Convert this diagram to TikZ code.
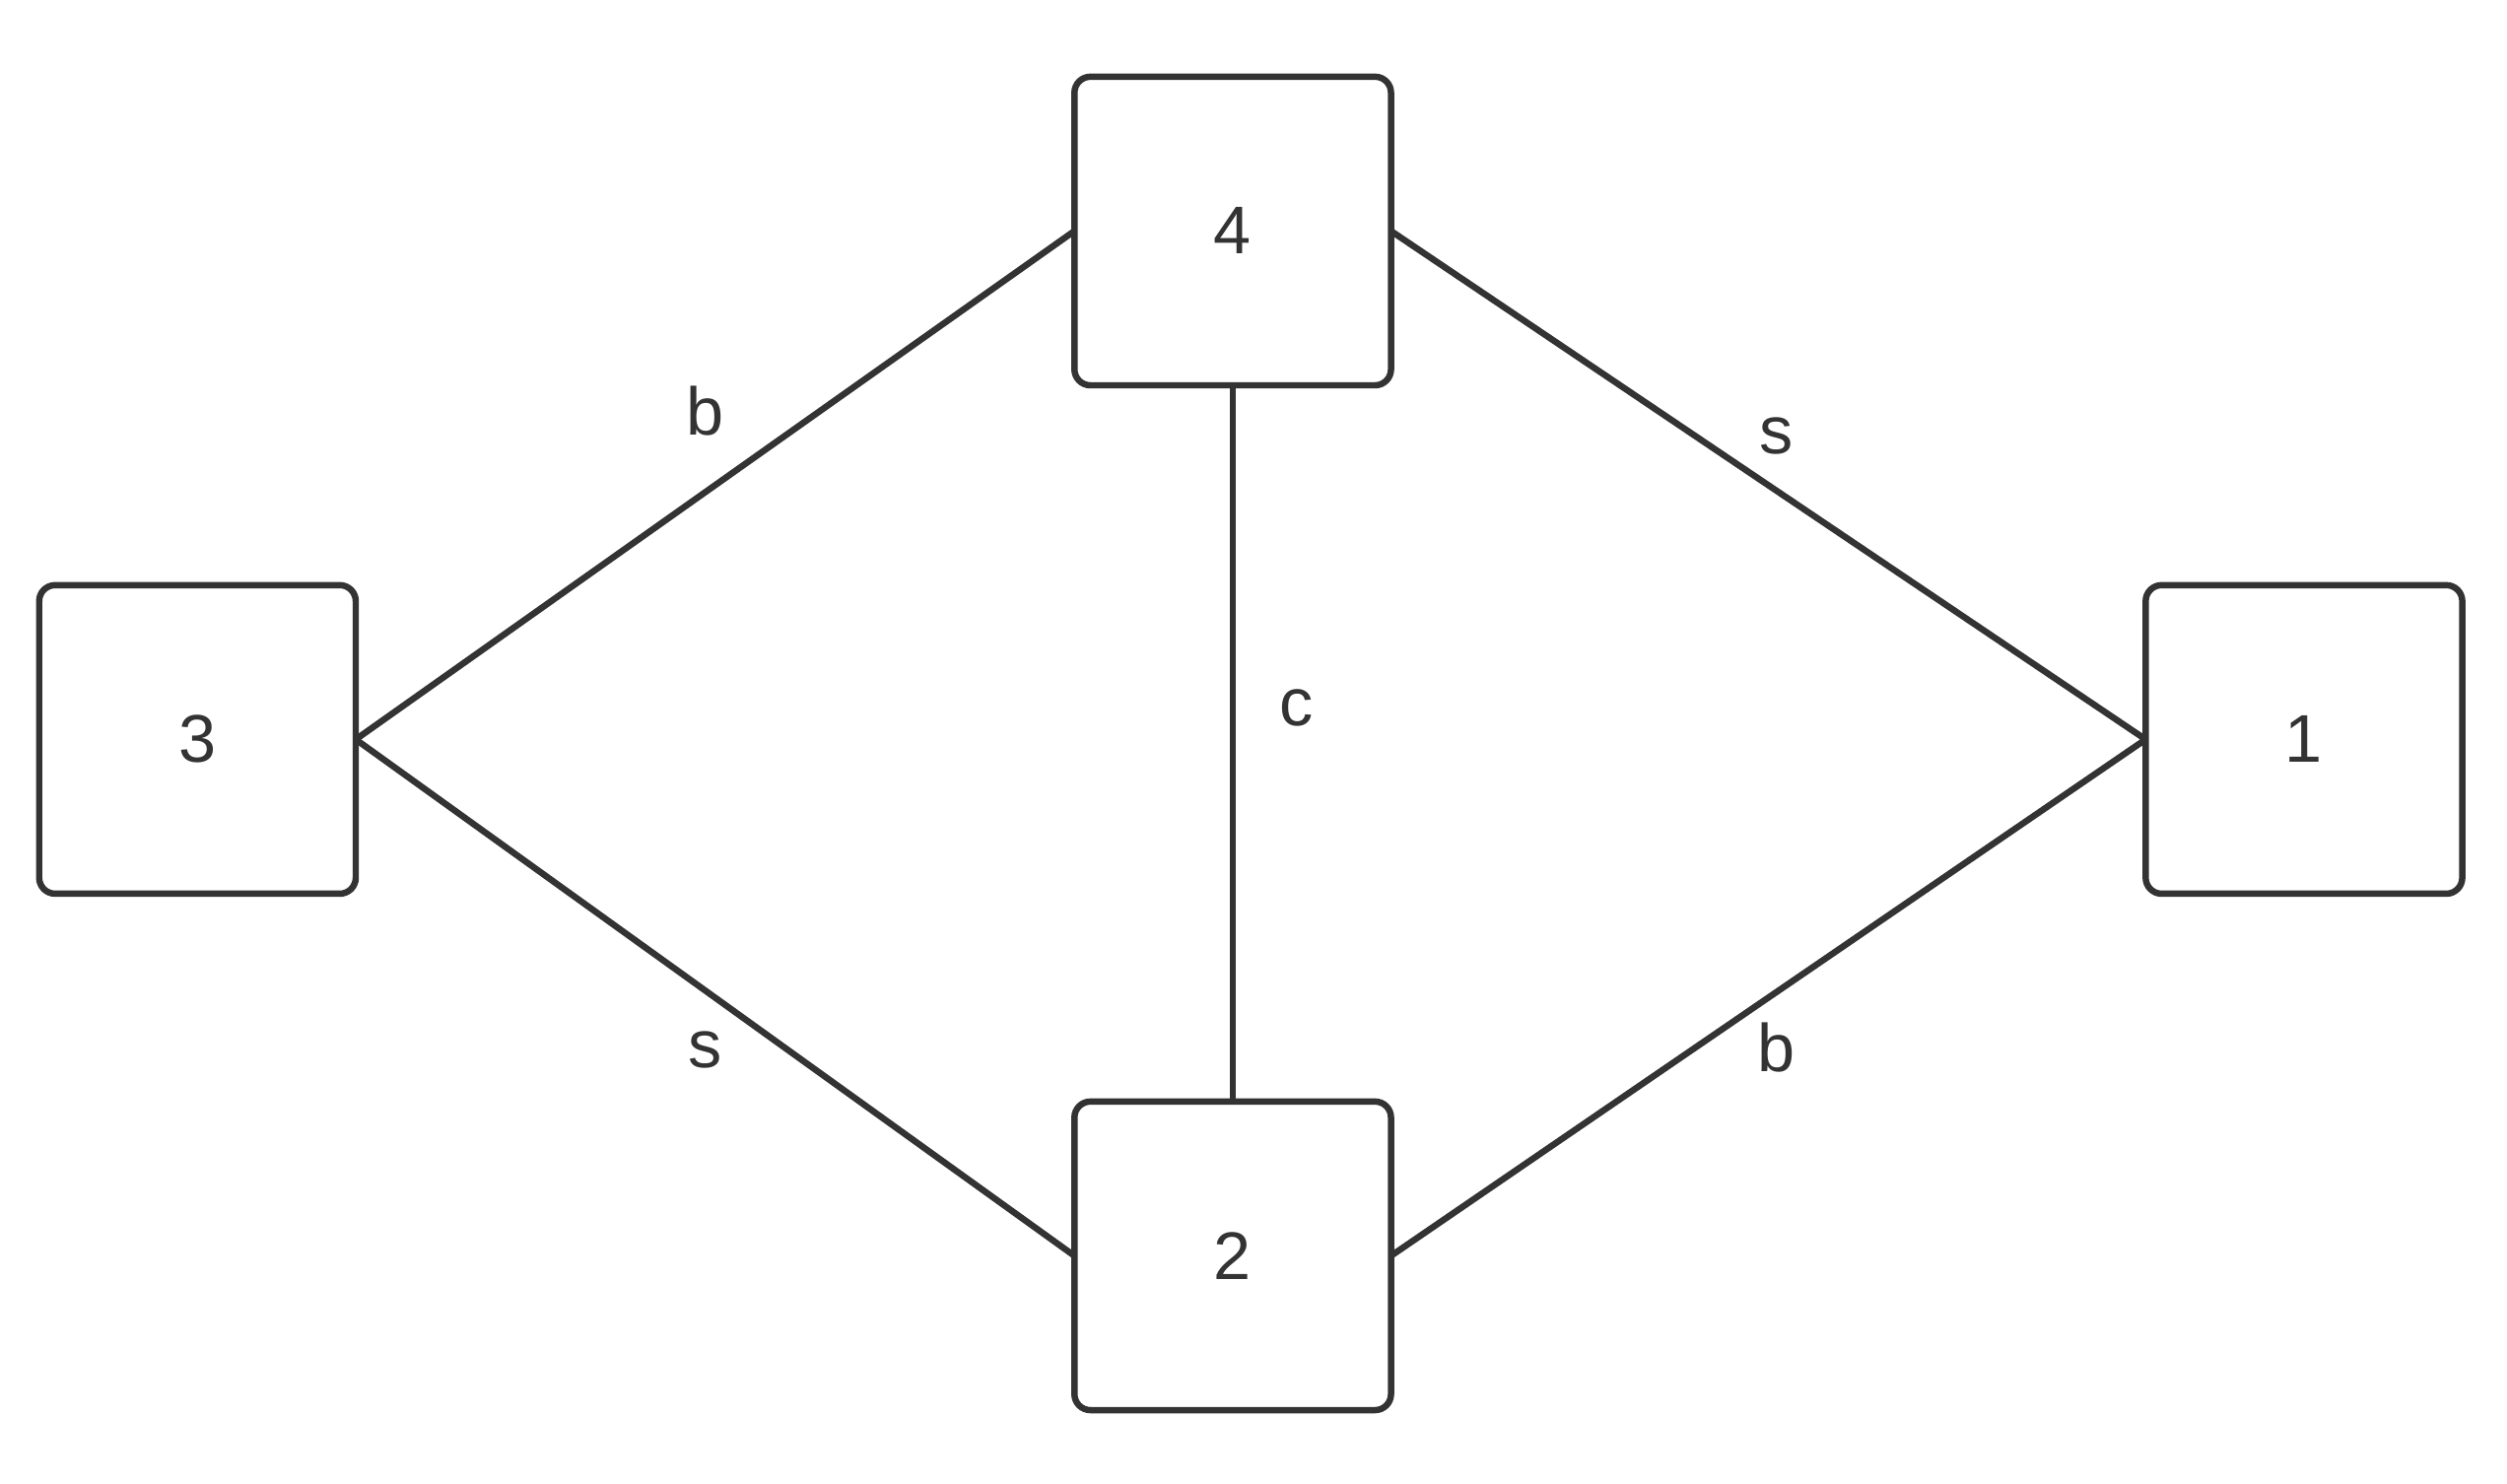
\documentclass[tikz,border=0pt]{standalone}
\usepackage{fontspec}
\setmainfont{Liberation Sans}
\begin{document}
\begin{tikzpicture}[x=0.03cm,y=-0.03cm,
  box/.style={draw=black!80,line width=3.4pt,rounded corners=0.3cm,minimum width=5.94cm,minimum height=5.79cm,inner sep=0pt,outer sep=0pt,text=black!80,font=\fontsize{36}{40}\selectfont},
  edge/.style={draw=black!80,line width=3.4pt},
  lbl/.style={text=black!80,font=\fontsize{36}{40}\selectfont,inner sep=0pt}]
\useasboundingbox (0,0) rectangle (1568,928);
\node[box] (n4) at (771,144.5) {4};
\node[box] (n3) at (123.5,462.5) {3};
\node[box] (n1) at (1441,462.5) {1};
\node[box] (n2) at (771,785.5) {2};
\draw[edge] (n3.east) -- (n4.west);
\draw[edge] (n3.east) -- (n2.west);
\draw[edge] (n4.east) -- (n1.west);
\draw[edge] (n2.east) -- (n1.west);
\draw[edge] (n4.south) -- (n2.north);
\node[lbl] (lb1) at (441,257) {b};
\node[lbl] (ls1) at (1111,273) {s};
\node[lbl] (lc) at (811,443) {c};
\node[lbl] (ls2) at (441,657) {s};
\node[lbl] (lb2) at (1111,655) {b};
\end{tikzpicture}
\end{document}
